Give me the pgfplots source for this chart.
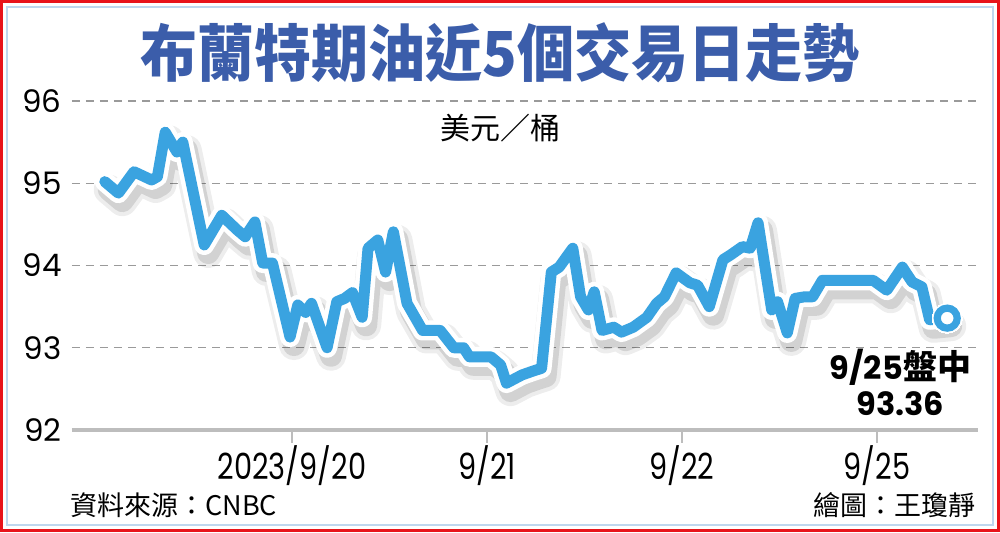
\documentclass[border=0pt]{standalone}
\usepackage{fontspec}
\setmainfont{Noto Sans CJK TC}
\newfontfamily\pop{Poppins}
\usepackage{graphicx}
\usepackage{pgfplots}
\usepackage{pgfplotstable}
\pgfplotsset{compat=1.18}

\definecolor{titleblue}{HTML}{3B5DAA}
\definecolor{lineblue}{HTML}{3AA3E0}
\definecolor{gridgray}{HTML}{9A9A9A}
\definecolor{axisgray}{HTML}{BDBDBD}
\definecolor{framered}{HTML}{E8141B}
\definecolor{frameblue}{HTML}{BFD7EE}

% Brent, last 5 trading days (x: trading day index, 1 = 2023/9/20)
\pgfplotstableread{
x     y
0.04  95.02
0.11  94.88
0.19  95.14
0.28  95.04
0.31  95.08
0.35  95.62
0.41  95.38
0.44  95.50
0.55  94.25
0.64  94.61
0.72  94.43
0.76  94.35
0.81  94.53
0.85  94.03
0.90  94.03
0.99  93.13
1.03  93.52
1.07  93.43
1.10  93.54
1.18  93.00
1.23  93.56
1.27  93.60
1.31  93.67
1.36  93.37
1.39  94.21
1.44  94.31
1.48  93.92
1.52  94.41
1.59  93.54
1.67  93.21
1.76  93.21
1.83  93.00
1.88  93.00
1.91  92.89
2.02  92.89
2.07  92.79
2.10  92.57
2.18  92.67
2.24  92.72
2.28  92.75
2.33  93.92
2.37  93.98
2.44  94.21
2.48  93.62
2.52  93.46
2.55  93.68
2.59  93.21
2.65  93.25
2.69  93.19
2.75  93.25
2.82  93.37
2.87  93.54
2.91  93.62
2.97  93.91
3.04  93.79
3.08  93.76
3.14  93.50
3.21  94.07
3.25  94.13
3.31  94.23
3.35  94.21
3.39  94.52
3.46  93.46
3.49  93.56
3.54  93.18
3.58  93.60
3.63  93.62
3.67  93.62
3.72  93.82
3.98  93.82
4.05  93.70
4.13  93.98
4.18  93.80
4.23  93.74
4.27  93.34
4.36  93.36
}\brent

\newcommand{\xl}[1]{\scalebox{0.8}[1]{\pop #1}}

\begin{document}
\begin{tikzpicture}
\useasboundingbox (0,0) rectangle (500pt,266pt);
\fill[white] (0,0) rectangle (500pt,266pt);
\draw[framered, line width=1.5pt] (0.75pt,0.75pt) rectangle (499.25pt,265.25pt);
\draw[frameblue, line width=0.8pt] (3.6pt,3.6pt) rectangle (496.4pt,262.4pt);

\node[titleblue, font=\fontsize{31}{33}\selectfont\bfseries, xscale=0.92, transform shape] at (250pt,239.5pt) {布蘭特期油近5個交易日走勢};

\begin{axis}[
  at={(36pt,51pt)}, anchor=south west,
  scale only axis,
  width=453pt, height=164.5pt,
  xmin=-0.128, xmax=4.518,
  ymin=92, ymax=96,
  clip=false,
  axis x line*=bottom, axis y line*=left,
  x axis line style={axisgray, line width=1.6pt, -},
  y axis line style={draw=none},
  xtick={1,2,3,4},
  xticklabels={\xl{2023/9/20}, \xl{9/21}, \xl{9/22}, \xl{9/25}},
  xtick style={axisgray, line width=1.2pt, yshift=-0.8pt},
  tick align=outside,
  major tick length=5.5pt,
  x tick label style={font=\fontsize{18}{19}\selectfont, anchor=north, inner sep=0pt, yshift=-2pt},
  ytick={92,93,94,95,96},
  yticklabels={{\pop 92}, {\pop 93}, {\pop 94}, {\pop 95}, {\pop 96}},
  ytick style={draw=none},
  y tick label style={font=\fontsize{15.5}{16}\selectfont, anchor=east, inner sep=0pt, xshift=0.5pt},
  ymajorgrids=true,
  grid style={gridgray, line width=0.7pt, dash pattern=on 4pt off 3pt},
]
% shadow
\addplot[black, opacity=0.07, line width=15pt, line join=round, line cap=round, xshift=2pt, yshift=-4pt] table {\brent};
\addplot[black, opacity=0.11, line width=11pt, line join=round, line cap=round, xshift=2pt, yshift=-4pt] table {\brent};
% white halo
\addplot[white, line width=10pt, line join=round, line cap=round] table {\brent};
% price line
\addplot[lineblue, line width=5.5pt, line join=round, line cap=round] table {\brent};
% latest quote
\addplot[only marks, mark=*, mark size=7.5pt, mark options={fill=white, draw=white, line width=0pt}] coordinates {(4.36,93.36)};
\addplot[only marks, mark=*, mark size=5pt, mark options={fill=white, draw=lineblue, line width=3.6pt}] coordinates {(4.36,93.36)};

\node[font=\fontsize{15}{16}\selectfont] at (axis cs:2.07,95.67) {美元／桶};
\node[font=\fontsize{17}{18}\selectfont\bfseries, inner sep=0pt] at (axis cs:4.12,92.76) {{\pop\fontsize{16}{17}\selectfont 9/25}盤中};
\node[font=\fontsize{16}{17}\selectfont\bfseries, inner sep=0pt] at (axis cs:4.12,92.32) {\pop 93.36};
\end{axis}

\node[anchor=west, inner sep=0pt, font=\fontsize{13.5}{14}\selectfont] at (35pt,13.5pt) {資料來源：CNBC};
\node[anchor=east, inner sep=0pt, font=\fontsize{13.5}{14}\selectfont] at (488pt,13.5pt) {繪圖：王瓊靜};
\end{tikzpicture}
\end{document}
